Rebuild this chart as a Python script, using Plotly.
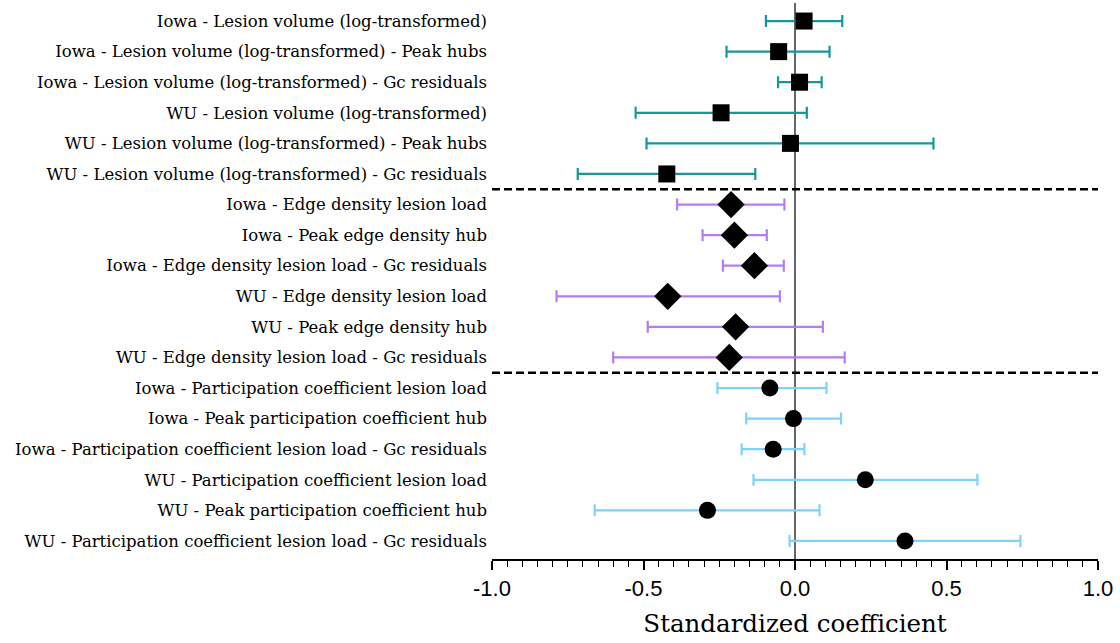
import plotly.graph_objects as go

labels = [
    "Iowa - Lesion volume (log-transformed)",
    "Iowa - Lesion volume (log-transformed) - Peak hubs",
    "Iowa - Lesion volume (log-transformed) - Gc residuals",
    "WU - Lesion volume (log-transformed)",
    "WU - Lesion volume (log-transformed) - Peak hubs",
    "WU - Lesion volume (log-transformed) - Gc residuals",
    "Iowa - Edge density lesion load",
    "Iowa - Peak edge density hub",
    "Iowa - Edge density lesion load - Gc residuals",
    "WU - Edge density lesion load",
    "WU - Peak edge density hub",
    "WU - Edge density lesion load - Gc residuals",
    "Iowa - Participation coefficient lesion load",
    "Iowa - Peak participation coefficient hub",
    "Iowa - Participation coefficient lesion load - Gc residuals",
    "WU - Participation coefficient lesion load",
    "WU - Peak participation coefficient hub",
    "WU - Participation coefficient lesion load - Gc residuals",
]

coef = [0.030, -0.054, 0.015, -0.244, -0.015, -0.423,
        -0.211, -0.200, -0.134, -0.420, -0.196, -0.217,
        -0.083, -0.005, -0.072, 0.232, -0.289, 0.363]
ci_low = [-0.096, -0.226, -0.056, -0.526, -0.490, -0.717,
          -0.389, -0.305, -0.238, -0.787, -0.486, -0.600,
          -0.256, -0.161, -0.176, -0.137, -0.661, -0.018]
ci_high = [0.156, 0.114, 0.088, 0.039, 0.457, -0.131,
           -0.035, -0.093, -0.037, -0.050, 0.092, 0.164,
           0.104, 0.152, 0.031, 0.602, 0.081, 0.744]

groups = [
    (0, 6, "#16979a", "square", 17),
    (6, 12, "#b57cf5", "diamond", 21),
    (12, 18, "#7dd3fb", "circle", 17),
]
separators = [5.5, 11.5]
xticks = [-1.0, -0.5, 0.0, 0.5, 1.0]

SERIF = "DejaVu Serif"
SANS = "Liberation Sans, Arial, sans-serif"

fig = go.Figure()
for start, end, color, symbol, size in groups:
    idx = list(range(start, end))
    fig.add_trace(go.Scatter(
        x=[coef[i] for i in idx],
        y=idx,
        mode="markers",
        marker=dict(symbol=symbol, size=size, color="black", line=dict(width=0)),
        error_x=dict(
            type="data", symmetric=False,
            array=[ci_high[i] - coef[i] for i in idx],
            arrayminus=[coef[i] - ci_low[i] for i in idx],
            color=color, thickness=2.2, width=6,
        ),
        showlegend=False,
        hoverinfo="skip",
    ))

fig.add_shape(type="line", x0=0, x1=0, y0=0, y1=1, xref="x", yref="paper",
              line=dict(color="#333333", width=1.5), layer="below")
for s in separators:
    fig.add_shape(type="line", x0=0, x1=1, y0=s, y1=s, xref="paper", yref="y",
                  line=dict(color="black", width=2.4, dash="8px,4px"))

fig.update_layout(
    width=1120, height=643,
    margin=dict(l=492, r=22, t=3, b=84),
    paper_bgcolor="white", plot_bgcolor="white",
    font=dict(family=SERIF, color="black"),
    xaxis=dict(
        range=[-1.0, 1.0], tickvals=xticks,
        ticktext=[f"{v:.1f}" for v in xticks],
        showgrid=False, zeroline=False,
        showline=True, linecolor="black", linewidth=1.5,
        ticks="outside", ticklen=9, tickwidth=1.5, tickcolor="black",
        minor=dict(dtick=0.05, ticks="outside", ticklen=6, tickwidth=1.2, tickcolor="black"),
        tickfont=dict(family=SANS, size=22, color="black"),
        title=dict(text="Standardized coefficient",
                   font=dict(family=SERIF, size=24.5, color="black"),
                   standoff=15),
    ),
    yaxis=dict(
        range=[17.59, -0.59],
        tickvals=list(range(len(labels))), ticktext=labels,
        showgrid=False, zeroline=False, showline=False, ticks="",
        ticklabelstandoff=4,
        tickfont=dict(family=SERIF, size=16.5, color="black"),
    ),
)

fig.write_html("out.html")
